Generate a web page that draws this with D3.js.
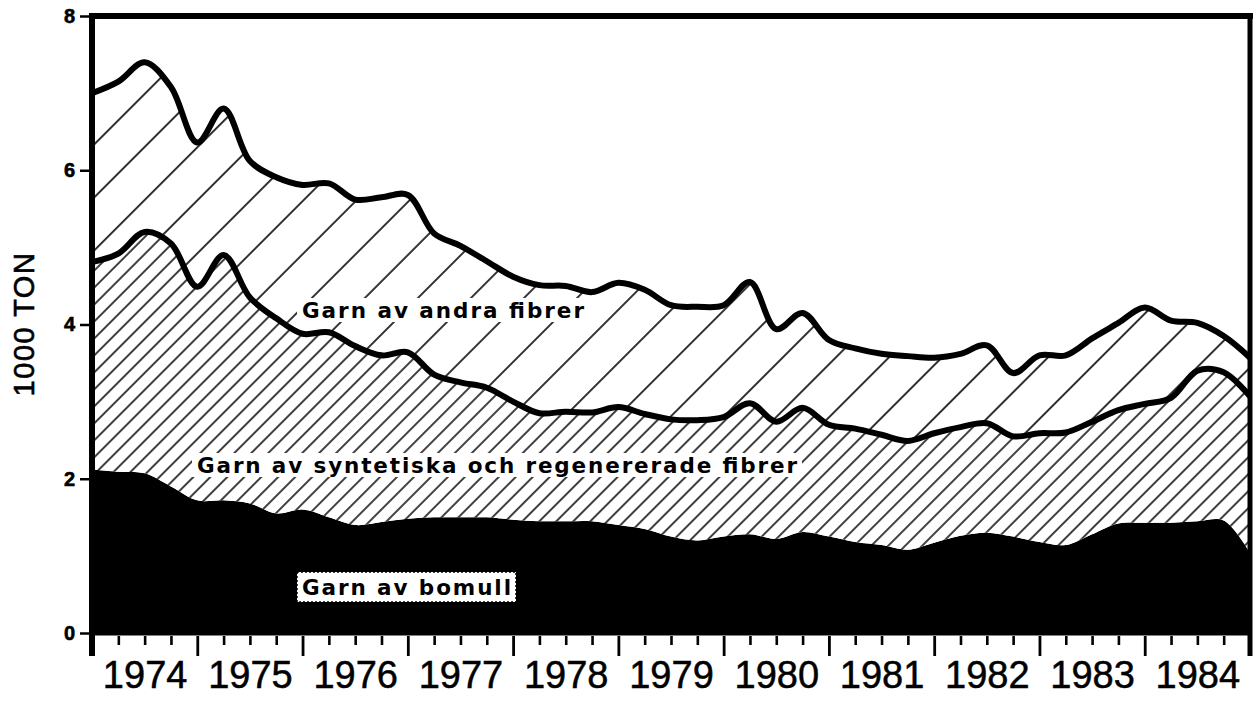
<!DOCTYPE html>
<html>
<head>
<meta charset="utf-8">
<script src="https://cdn.jsdelivr.net/npm/d3@7"></script>
<style>
  html, body { margin: 0; padding: 0; background: #fff; }
  svg { display: block; }
</style>
</head>
<body>
<svg id="chart" width="1255" height="707"></svg>
<script>
// ---- Data (1000 ton), read at quarter boundaries 1974.00 ... 1985.00 ----
const years = [1974, 1975, 1976, 1977, 1978, 1979, 1980, 1981, 1982, 1983, 1984];
const yTicks = [0, 2, 4, 6, 8];
const seriesNames = ["Garn av bomull", "Garn av syntetiska och regenererade fibrer", "Garn av andra fibrer"];

const bomull = [2.12, 2.09, 2.07, 1.90, 1.72, 1.72, 1.68, 1.55, 1.60, 1.50, 1.40, 1.44,
                1.48, 1.50, 1.50, 1.50, 1.47, 1.45, 1.45, 1.45, 1.40, 1.35, 1.25, 1.20,
                1.25, 1.28, 1.22, 1.31, 1.25, 1.18, 1.14, 1.08, 1.17, 1.26, 1.30, 1.25,
                1.18, 1.14, 1.28, 1.42, 1.43, 1.43, 1.45, 1.46, 1.04];
const syntetiska = [2.69, 2.83, 3.13, 3.15, 2.77, 3.18, 2.67, 2.53, 2.28, 2.40, 2.32, 2.16,
                    2.16, 1.85, 1.75, 1.68, 1.53, 1.40, 1.42, 1.41, 1.53, 1.49, 1.52, 1.56,
                    1.55, 1.70, 1.52, 1.61, 1.45, 1.47, 1.43, 1.41, 1.42, 1.41, 1.42, 1.30,
                    1.41, 1.46, 1.46, 1.47, 1.54, 1.62, 1.95, 1.92, 2.03];
const andra = [2.19, 2.23, 2.20, 2.03, 1.87, 1.90, 1.77, 1.83, 1.93, 1.93, 1.90, 2.05,
               2.04, 1.83, 1.77, 1.64, 1.62, 1.66, 1.63, 1.56, 1.61, 1.61, 1.48, 1.47,
               1.45, 1.57, 1.20, 1.23, 1.10, 1.04, 1.05, 1.10, 0.98, 0.95, 1.01, 0.82,
               1.01, 1.00, 1.08, 1.13, 1.25, 1.00, 0.62, 0.47, 0.50];
// time position of each reading (quarter boundaries)
const periods = bomull.map((d, i) => years[0] + i / 4);

const table = periods.map((t, i) => ({ t, bomull: bomull[i], synt: syntetiska[i], andra: andra[i] }));

// ---- Layout ----
const svg = d3.select("#chart");
const L = 92, R = 1250, T = 16, B = 633;
const x = d3.scaleLinear().domain([1974, 1985]).range([L, R]);
const y = d3.scaleLinear().domain([0, 8]).range([B, T]);

// ---- Patterns ----
const defs = svg.append("defs");
function hatch(id, spacing, width) {
  const p = defs.append("pattern")
    .attr("id", id)
    .attr("patternUnits", "userSpaceOnUse")
    .attr("width", spacing).attr("height", spacing)
    .attr("patternTransform", "rotate(45)");
  p.append("rect").attr("width", spacing).attr("height", spacing).attr("fill", "#fff");
  p.append("line").attr("x1", spacing / 2).attr("y1", -1).attr("x2", spacing / 2).attr("y2", spacing + 1)
    .attr("stroke", "#000").attr("stroke-width", width);
}
hatch("dense", 12, 1.5);
hatch("sparse", 37.5, 1.6);

defs.append("clipPath").attr("id", "plotclip")
  .append("rect").attr("x", L).attr("y", T).attr("width", R - L).attr("height", B - T + 2);

// ---- Stack ----
const stack = d3.stack().keys(["bomull", "synt", "andra"])(table);
const curve = d3.curveCatmullRom.alpha(0.5);
const area = d3.area().curve(curve)
  .x(d => x(d.data.t)).y0(d => y(d[0])).y1(d => y(d[1]));
const line = d3.line().curve(curve)
  .x(d => x(d.data.t)).y(d => y(d[1]));

const fills = ["#000", "url(#dense)", "url(#sparse)"];
const plot = svg.append("g").attr("clip-path", "url(#plotclip)");
plot.selectAll("path.area").data(stack).join("path")
  .attr("class", "area")
  .attr("d", area)
  .attr("fill", (d, i) => fills[i]);

plot.selectAll("path.edge").data([stack[1], stack[2]]).join("path")
  .attr("class", "edge")
  .attr("d", line)
  .attr("fill", "none")
  .attr("stroke", "#000")
  .attr("stroke-width", 6)
  .attr("stroke-linejoin", "round");

// ---- Labels inside the chart ----
function label(txt, x0, x1, cy, boxed) {
  const g = svg.append("g");
  const width = x1 - x0;
  g.append("text")
    .attr("x", x0).attr("y", cy + 8)
    .attr("font-family", "'DejaVu Sans', Verdana, sans-serif")
    .attr("font-weight", 700)
    .style("font-size", "21.5px")
    .attr("textLength", width)
    .attr("lengthAdjust", "spacing")
    .text(txt);
  const padX = boxed ? 5 : 5;
  g.insert("rect", "text")
    .attr("x", x0 - padX)
    .attr("y", cy - (boxed ? 15 : 12))
    .attr("width", width + 2 * padX)
    .attr("height", boxed ? 30 : 24)
    .attr("fill", "#fff")
    .attr("stroke", boxed ? "#000" : "none")
    .attr("stroke-width", 1.5)
    .attr("stroke-dasharray", boxed ? "2,2" : null);
}
label(seriesNames[2], 302, 584, 310, false);
label(seriesNames[1], 197, 797, 465, false);
label(seriesNames[0], 302, 511, 587, true);

// ---- Frame ----
svg.append("line").attr("x1", L - 3).attr("x2", R + 3).attr("y1", T).attr("y2", T)
  .attr("stroke", "#000").attr("stroke-width", 6);
svg.append("line").attr("x1", L).attr("x2", L).attr("y1", T - 3).attr("y2", 656)
  .attr("stroke", "#000").attr("stroke-width", 6);
svg.append("line").attr("x1", R).attr("x2", R).attr("y1", T - 3).attr("y2", 656)
  .attr("stroke", "#000").attr("stroke-width", 5);
svg.append("line").attr("x1", L).attr("x2", R).attr("y1", B + 1).attr("y2", B + 1)
  .attr("stroke", "#000").attr("stroke-width", 3);

// ---- Y axis ----
const yAxis = svg.append("g").attr("transform", `translate(${L - 3},0)`)
  .call(d3.axisLeft(y).tickValues(yTicks).tickSize(9).tickPadding(5).tickFormat(d3.format("d")));
yAxis.select(".domain").remove();
yAxis.selectAll("line").attr("stroke-width", 2.5);
yAxis.selectAll("text")
  .style("font-family", "'Liberation Sans', Arial, sans-serif")
  .style("font-weight", "700").style("font-size", "20px").attr("fill", "#000")
  .attr("stroke", "#000").attr("stroke-width", 0.6);

svg.append("text")
  .attr("transform", `translate(34,324) rotate(-90)`)
  .attr("text-anchor", "middle")
  .attr("font-family", "'Liberation Sans', Arial, sans-serif")
  .attr("font-size", 29)
  .attr("letter-spacing", 1.5)
  .attr("stroke", "#000").attr("stroke-width", 0.6)
  .text("1000 TON");

// ---- X axis ----
const quarterTicks = d3.range(1974, 1985.01, 0.25).filter(v => Math.abs(v - Math.round(v)) > 1e-6);
const yearTicks = years.concat([1985]);
const xMinor = svg.append("g").attr("transform", `translate(0,${B + 3})`)
  .call(d3.axisBottom(x).tickValues(quarterTicks).tickSize(9).tickFormat(""));
xMinor.select(".domain").remove();
xMinor.selectAll("line").attr("stroke-width", 2.6);
const xMajor = svg.append("g").attr("transform", `translate(0,${B + 3})`)
  .call(d3.axisBottom(x).tickValues(yearTicks).tickSize(20).tickFormat(""));
xMajor.select(".domain").remove();
xMajor.selectAll("line").attr("stroke-width", 2.8);

const xLabels = svg.append("g").attr("transform", `translate(0,${B + 3})`)
  .call(d3.axisBottom(x).tickValues(years.map(v => v + 0.5)).tickSize(0).tickPadding(25)
        .tickFormat(d => String(Math.floor(d))));
xLabels.select(".domain").remove();
xLabels.selectAll("text")
  .attr("font-family", "'Liberation Sans', Arial, sans-serif")
  .attr("font-size", 38).attr("fill", "#000")
  .attr("stroke", "#000").attr("stroke-width", 0.5);
</script>
</body>
</html>
